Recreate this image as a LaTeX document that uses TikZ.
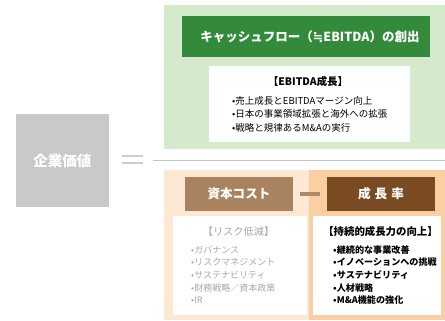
\documentclass[tikz,border=0pt]{standalone}
\usepackage{fontspec}
\newfontfamily\jp{Noto Sans CJK JP}
\newfontfamily\dv{DejaVu Sans}
\definecolor{greenbg}{HTML}{D5E9CD}
\definecolor{greenhd}{HTML}{348A3B}
\definecolor{graybox}{HTML}{C9C9C9}
\definecolor{peachL}{HTML}{FDE8D3}
\definecolor{peachR}{HTML}{FAD0A2}
\definecolor{brownL}{HTML}{A9835F}
\definecolor{brownR}{HTML}{7A4B22}
\definecolor{dashc}{HTML}{B08A68}
\definecolor{graytxt}{HTML}{A8A8A8}
\definecolor{linec}{HTML}{C4C4C4}
\tikzset{
  box/.style={rectangle, inner sep=0pt, draw=none},
  headtxt/.style={font=\jp\bfseries\fontsize{12.6}{14}\selectfont, text=white},
  subhead/.style={font=\jp\bfseries\fontsize{10.4}{12}\selectfont, inner sep=0pt},
  item/.style={font=\jp\fontsize{9.5}{11}\selectfont, inner sep=0pt, anchor=west},
  gitem/.style={item, text=graytxt, font=\jp\fontsize{9}{11}\selectfont},
  bitem/.style={item, font=\jp\bfseries\fontsize{9.1}{11}\selectfont},
}
\begin{document}
\begin{tikzpicture}[x=1pt,y=-1pt]
\useasboundingbox[fill=white] (0,0) rectangle (445,321);
% top (green) block
\node[box, fill=greenbg, minimum width=281pt, minimum height=144pt] (gbg) at (304.5,77) {};
\node[box, fill=greenhd, minimum width=248pt, minimum height=41pt] (cf) at (306,36.5) {};
\node[headtxt, inner sep=0pt, font=\jp\bfseries\fontsize{12.5}{14}\selectfont] (cft) at (310,36.5) {キャッシュフロー（{\dv\bfseries ≒}EBITDA）の創出};
\node[box, fill=white, minimum width=201pt, minimum height=76pt] (wtop) at (309.5,104) {};
\node[subhead] (ebh) at (308,82) {【EBITDA成長】};
\node[item] (t1) at (232,100.5) {•売上成長とEBITDAマージン向上};
\node[item] (t2) at (232,114) {•日本の事業領域拡張と海外への拡張};
\node[item] (t3) at (232,127.5) {•戦略と規律あるM\&Aの実行};
% enterprise value
\node[box, fill=graybox, minimum width=93pt, minimum height=93pt,
      font=\jp\bfseries\fontsize{14.5}{16}\selectfont, text=white] (ev) at (62.5,160.5) {企業価値};
\fill[graybox!90] (122,154.8) rectangle (143,157.4);
\fill[graybox!90] (122,161.8) rectangle (143,164.4);
\coordinate (ls) at (153,160.5);
\coordinate (le) at (445,160.5);
\draw[linec, line width=1pt] (ls) -- (le);
% bottom (peach) block
\node[box, fill=peachL, minimum width=145pt, minimum height=150pt] (pl) at (236.5,245) {};
\node[box, fill=peachR, minimum width=136pt, minimum height=150pt] (pr) at (377,245) {};
\node[box, fill=brownL, minimum width=108pt, minimum height=34pt, headtxt] (cost) at (239,194) {資本コスト};
\node[box, fill=brownR, minimum width=108pt, minimum height=34pt, headtxt] (grow) at (381,194) {成\hspace{4pt}長\hspace{4pt}率};
\draw[dashc, line width=4pt, shorten <=7pt, shorten >=7pt] (cost) -- (grow);
\node[box, fill=white, minimum width=134pt, minimum height=99pt] (wl) at (240,265.5) {};
\node[box, fill=white, minimum width=128pt, minimum height=99pt] (wr) at (377,265.5) {};
\node[subhead, text=graytxt, font=\jp\fontsize{10.2}{12}\selectfont] (rh) at (238.5,232) {【リスク低減】};
\node[gitem] (l1) at (191,250) {•ガバナンス};
\node[gitem] (l2) at (191,262.5) {•リスクマネジメント};
\node[gitem] (l3) at (191,275) {•サステナビリティ};
\node[gitem] (l4) at (191,288) {•財務戦略／資本政策};
\node[gitem] (l5) at (191,300.5) {•IR};
\node[subhead] (gh) at (380.5,232) {【持続的成長力の向上】};
\node[bitem] (r1) at (333,250) {•継続的な事業改善};
\node[bitem] (r2) at (333,262.5) {•イノベーションへの挑戦};
\node[bitem] (r3) at (333,275) {•サステナビリティ};
\node[bitem] (r4) at (333,288) {•人材戦略};
\node[bitem] (r5) at (333,300.5) {•M\&A機能の強化};
\end{tikzpicture}
\end{document}
